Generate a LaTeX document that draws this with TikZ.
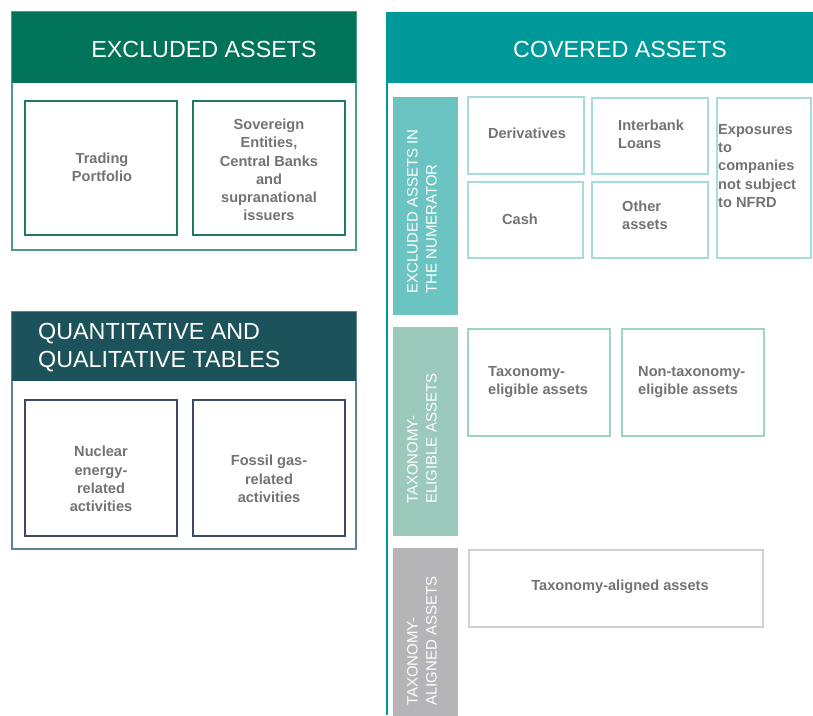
\documentclass[tikz,border=0pt]{standalone}
\usepackage{fontspec}
\setmainfont{Liberation Sans}
\definecolor{exhead}{HTML}{007358}
\definecolor{exborder}{HTML}{4A9E86}
\definecolor{exbox}{HTML}{1E7A60}
\definecolor{qhead}{HTML}{1C5259}
\definecolor{qborder}{HTML}{5A868C}
\definecolor{qbox}{HTML}{3D4A66}
\definecolor{covhead}{HTML}{009999}
\definecolor{barone}{HTML}{6CC4C2}
\definecolor{bartwo}{HTML}{9BCABD}
\definecolor{barthree}{HTML}{B5B5B7}
\definecolor{covbox}{HTML}{A6DCDB}
\definecolor{eligbox}{HTML}{9FD3C8}
\definecolor{alignbox}{HTML}{D0D0D0}
\definecolor{txtgray}{HTML}{737373}
\begin{document}
\begin{tikzpicture}[x=1pt,y=-1pt,
  boxtext/.style={text=txtgray,font=\fontsize{14.6}{18.3}\selectfont\bfseries,inner sep=0pt},
  headtext/.style={text=white,font=\fontsize{23.3}{28}\selectfont,inner sep=0pt},
  bartext/.style={text=white,font=\fontsize{15}{19}\selectfont,inner sep=0pt,rotate=90,anchor=north west,align=left},
  panel/.style={line width=1.4pt},
  ibox/.style={line width=1.2pt,fill=white}
]
\useasboundingbox (0,0) rectangle (813,715);
% Excluded assets panel
\draw[panel,draw=exborder] (12,12) rectangle (356,250);
\fill[exhead] (12,12) rectangle (356,83);
\node[headtext] (exh) at (204,49) {EXCLUDED ASSETS};
\draw[ibox,draw=exbox] (25,101) rectangle (177,235);
\draw[ibox,draw=exbox] (193,101) rectangle (345,235);
\node[boxtext,align=center] (trad) at (102,167) {Trading\\Portfolio};
\node[boxtext,align=center] (sov) at (269,170) {Sovereign\\Entities,\\Central Banks\\and\\supranational\\issuers};
% Quantitative panel
\draw[panel,draw=qborder] (12,312) rectangle (356,549);
\fill[qhead] (12,312) rectangle (356,381);
\node[headtext,align=left,anchor=west] (qh) at (38,348) {QUANTITATIVE AND\\QUALITATIVE TABLES};
\draw[ibox,draw=qbox] (25,400) rectangle (177,536);
\draw[ibox,draw=qbox] (193,400) rectangle (345,536);
\node[boxtext,align=center] (nuc) at (101,479) {Nuclear\\energy-\\related\\activities};
\node[boxtext,align=center] (fos) at (269,479) {Fossil gas-\\related\\activities};
% Covered assets panel
\fill[covhead] (387,12) rectangle (813,83);
\draw[line width=1.4pt,draw=covhead] (387,12) -- (387,715);
\node[headtext] (covh) at (620,49) {COVERED ASSETS};
% side bars
\fill[barone] (393,97) rectangle (458,315);
\fill[bartwo] (393,327) rectangle (458,536);
\fill[barthree] (393,548) rectangle (458,716);
\node[bartext] (b1) at (407,294) {EXCLUDED ASSETS IN\\THE NUMERATOR};
\node[bartext] (b2) at (407,504) {TAXONOMY-\\ELIGIBLE ASSETS};
\node[bartext] (b3) at (407,706) {TAXONOMY-\\ALIGNED ASSETS};
% covered boxes
\draw[ibox,draw=covbox] (468,97) rectangle (584,174);
\draw[ibox,draw=covbox] (592,98) rectangle (708,174);
\draw[ibox,draw=covbox] (717,98) rectangle (811,258);
\draw[ibox,draw=covbox] (468,182) rectangle (583,258);
\draw[ibox,draw=covbox] (592,182) rectangle (708,258);
\node[boxtext] (der) at (527,133) {Derivatives};
\node[boxtext,align=left,anchor=west] (inter) at (618,134) {Interbank\\Loans};
\node[boxtext,align=left,anchor=west] (expo) at (718,166) {Exposures\\to\\companies\\not subject\\to NFRD};
\node[boxtext] (cash) at (520,219) {Cash};
\node[boxtext,align=left,anchor=west] (oth) at (622,215) {Other\\assets};
\draw[ibox,draw=eligbox] (468,329) rectangle (610,436);
\draw[ibox,draw=eligbox] (622,329) rectangle (764,436);
\node[boxtext,align=left,anchor=west] (te) at (488,382) {Taxonomy-\\eligible assets};
\node[boxtext,align=left,anchor=west] (nte) at (638,382) {Non-taxonomy-\\eligible assets};
\draw[ibox,draw=alignbox] (469,550) rectangle (763,627);
\node[boxtext] (ta) at (620,587) {Taxonomy-aligned assets};
\end{tikzpicture}
\end{document}
